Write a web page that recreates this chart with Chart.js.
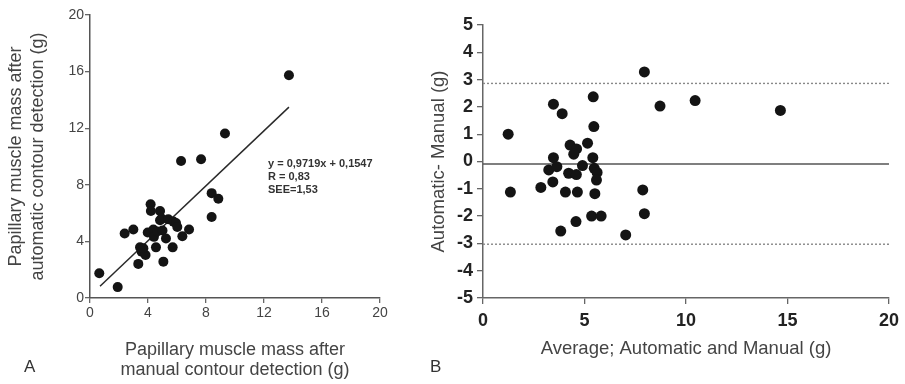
<!DOCTYPE html>
<html>
<head>
<meta charset="utf-8">
<script src="https://cdn.jsdelivr.net/npm/chart.js@4"></script>
<style>
  body { margin: 0; background: #fff; }
  #wrap { position: relative; width: 905px; height: 384px; }
  .panel { position: absolute; top: 0; height: 384px; }
  #panelA { left: 0; width: 400px; }
  #panelB { left: 400px; width: 505px; }
</style>
</head>
<body>
<div id="wrap">
  <div class="panel" id="panelA"><canvas id="chartA" width="400" height="384"></canvas></div>
  <div class="panel" id="panelB"><canvas id="chartB" width="505" height="384"></canvas></div>
</div>
<script>
// Panel A: automatic vs manual papillary muscle mass (g)
const manualMass = [0.64, 1.91, 2.39, 2.99, 3.33, 3.45, 3.56, 3.83, 3.68, 3.98, 4.18, 4.2, 4.37, 4.41, 4.55, 4.64, 4.83, 4.94,
  4.83, 5.0, 5.06, 5.24, 5.4, 5.75, 5.93, 6.02, 5.7, 6.37, 6.83, 6.28, 7.66, 8.39, 8.39, 8.85, 9.31, 13.72];
const autoMass = [1.75, 0.77, 4.56, 4.84, 2.41, 3.58, 3.27, 3.04, 3.51, 4.63, 6.62, 6.15, 4.84, 4.32, 3.58, 4.70, 6.15, 5.61,
  5.5, 4.77, 2.57, 4.21, 5.56, 5.4, 5.3, 5.02, 3.58, 4.37, 4.84, 9.68, 9.8, 5.73, 7.41, 7.02, 11.62, 15.74];
const fitCoef = [0.9719, 0.1547];   // slope, intercept
const fitRange = [0.69, 13.72];
const fitText = ['y = 0,9719x + 0,1547', 'R = 0,83', 'SEE=1,53'];
const massTicks = [0, 4, 8, 12, 16, 20];

// Panel B: Bland-Altman, difference vs average
const avgMass = [1.24, 1.35, 3.47, 3.9, 3.47, 3.24, 3.64, 3.44, 2.85, 4.06, 3.83, 4.29, 4.61, 4.47, 4.22, 4.6, 4.9, 4.65,
  4.58, 5.15, 5.43, 5.46, 5.41, 5.48, 5.62, 5.59, 5.51, 5.35, 5.82, 7.03, 7.87, 7.95, 7.95, 8.72, 10.45, 14.65];
const diffMass = [1.0, -1.12, 2.1, 1.75, 0.14, -0.31, -0.19, -0.75, -0.95, -1.12, -2.55, 0.6, 0.46, 0.27, -0.43, -0.48, -0.15, -1.12,
  -2.2, 0.67, 2.37, 1.28, 0.14, -0.25, -0.4, -0.68, -1.18, -2.0, -2.0, -2.69, -1.04, -1.91, 3.28, 2.03, 2.23, 1.87];
const meanDiff = -0.09;
const agreeLimits = [2.86, -3.03];
const avgRange = [0, 20];

const FONT = "'Liberation Sans', Arial, sans-serif";

function toPoints(xs, ys) {
  return xs.map((x, i) => ({ x: x, y: ys[i] }));
}

// free text drawn onto a chart canvas (panel letter, regression stats)
function textPlugin(id, items) {
  return {
    id: id,
    afterDraw(chart) {
      const ctx = chart.ctx;
      ctx.save();
      items.forEach(it => {
        ctx.font = it.font;
        ctx.fillStyle = it.color;
        ctx.textAlign = 'left';
        ctx.textBaseline = 'middle';
        it.lines.forEach((line, i) => ctx.fillText(line, it.x, it.y + i * it.step));
      });
      ctx.restore();
    }
  };
}

const common = {
  responsive: false,
  animation: false,
  events: [],
  plugins: { legend: { display: false }, tooltip: { enabled: false } }
};

new Chart(document.getElementById('chartA'), {
  type: 'scatter',
  data: {
    datasets: [{
      data: toPoints(manualMass, autoMass),
      pointRadius: 5,
      pointBackgroundColor: '#141414',
      pointBorderWidth: 0,
      order: 0
    }, {
      type: 'line',
      data: fitRange.map(x => ({ x: x, y: fitCoef[0] * x + fitCoef[1] })),
      borderColor: '#2a2a2a',
      borderWidth: 1.5,
      pointRadius: 0,
      order: 1
    }]
  },
  options: Object.assign({}, common, {
    layout: { padding: { left: 0, top: 15, right: 20, bottom: 0 } },
    scales: {
      x: {
        type: 'linear', min: 0, max: 20,
        afterBuildTicks: s => { s.ticks = massTicks.map(v => ({ value: v })); },
        afterFit: s => { s.height = 86; },
        ticks: { font: { family: FONT, size: 14 }, color: '#444', padding: 2 },
        grid: { drawOnChartArea: false, tickLength: 5, color: '#666', lineWidth: 1.3 },
        border: { color: '#555', width: 1.5 },
        title: {
          display: true,
          text: ['Papillary muscle mass after', 'manual contour detection (g)'],
          font: { family: FONT, size: 18, lineHeight: 1.1 },
          color: '#444',
          padding: { top: 0, bottom: 3.8 }
        }
      },
      y: {
        type: 'linear', min: 0, max: 20,
        afterBuildTicks: s => { s.ticks = massTicks.map(v => ({ value: v })); },
        afterFit: s => { s.width = 90; },
        ticks: { font: { family: FONT, size: 14 }, color: '#444', padding: 1 },
        grid: { drawOnChartArea: false, tickLength: 5, color: '#666', lineWidth: 1.3 },
        border: { color: '#555', width: 1.5 },
        title: {
          display: true,
          text: ['Papillary muscle mass after', 'automatic contour detection (g)'],
          font: { family: FONT, size: 18, lineHeight: 1.2 },
          color: '#444',
          padding: { top: 5.2, bottom: 0 }
        }
      }
    }
  }),
  plugins: [textPlugin('labelsA', [
    { lines: fitText, x: 268, y: 164, step: 13, font: "bold 11px " + FONT, color: '#333' },
    { lines: ['A'], x: 24, y: 367, step: 0, font: "17px " + FONT, color: '#333' }
  ])]
});

new Chart(document.getElementById('chartB'), {
  type: 'scatter',
  data: {
    datasets: [{
      data: toPoints(avgMass, diffMass),
      pointRadius: 5.5,
      pointBackgroundColor: '#141414',
      pointBorderWidth: 0,
      order: 0
    }, {
      type: 'line',
      data: avgRange.map(x => ({ x: x, y: meanDiff })),
      borderColor: '#555',
      borderWidth: 1.6,
      pointRadius: 0,
      order: 1
    }].concat(agreeLimits.map(v => ({
      type: 'line',
      data: avgRange.map(x => ({ x: x, y: v })),
      borderColor: '#888',
      borderWidth: 1.4,
      borderDash: [2, 2],
      pointRadius: 0,
      order: 2
    })))
  },
  options: Object.assign({}, common, {
    layout: { padding: { left: 0, top: 25, right: 13, bottom: 0 } },
    scales: {
      x: {
        type: 'linear', min: 0, max: 20,
        afterFit: s => { s.height = 86; },
        ticks: { stepSize: 5, font: { family: FONT, size: 18, weight: 'bold' }, color: '#222', padding: 6 },
        grid: { drawOnChartArea: false, tickLength: 6, color: '#666', lineWidth: 1.3 },
        border: { color: '#666', width: 1.5 },
        title: {
          display: true,
          text: 'Average; Automatic and Manual (g)',
          font: { family: FONT, size: 18.5, lineHeight: 1.2 },
          color: '#444',
          padding: { top: 0, bottom: 24.4 }
        }
      },
      y: {
        type: 'linear', min: -5, max: 5,
        afterFit: s => { s.width = 83; },
        ticks: { stepSize: 1, font: { family: FONT, size: 18, weight: 'bold' }, color: '#222', padding: 4 },
        grid: { drawOnChartArea: false, tickLength: 6, color: '#666', lineWidth: 1.3 },
        border: { color: '#666', width: 1.5 },
        title: {
          display: true,
          text: 'Automatic- Manual (g)',
          font: { family: FONT, size: 18.5, lineHeight: 1.2 },
          color: '#444',
          padding: { top: 27.4, bottom: 0 }
        }
      }
    }
  }),
  plugins: [textPlugin('labelsB', [
    { lines: ['B'], x: 30, y: 367, step: 0, font: "17px " + FONT, color: '#333' }
  ])]
});
</script>
</body>
</html>
